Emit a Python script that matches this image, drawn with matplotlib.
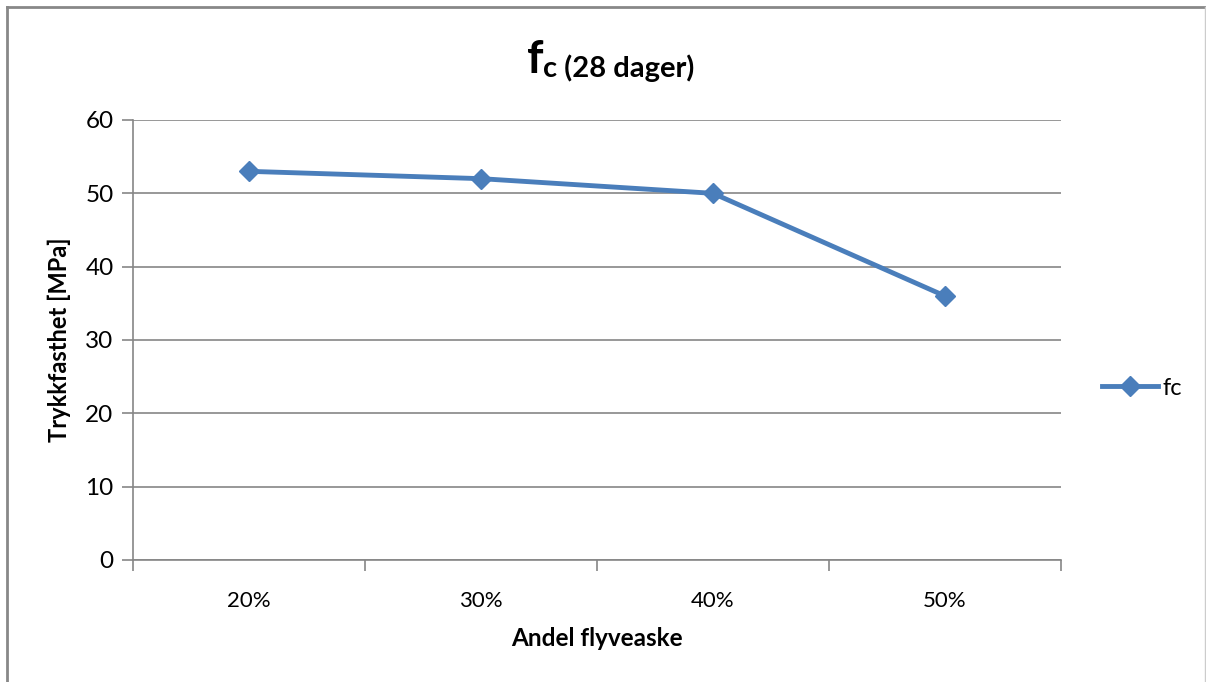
import matplotlib.pyplot as plt
from matplotlib.lines import Line2D

plt.rcParams['font.family'] = ['Lato', 'DejaVu Sans']

# Andel flyveaske mot trykkfasthet etter 28 dager
kategorier = ['20%', '30%', '40%', '50%']
fc_verdier = [53, 52, 50, 36]
y_ticks = [0, 10, 20, 30, 40, 50, 60]

W, H = 1206, 682
fig = plt.figure(figsize=(W / 100, H / 100), dpi=100)
ax = fig.add_axes([133 / W, 1 - 560 / H, (1061 - 133) / W, (560 - 120) / H])

blue = '#4a7ebb'
grid_c = '#868686'
x = [i + 0.5 for i in range(len(kategorier))]
ax.plot(x, fc_verdier, color=blue, lw=3.5, marker='D', ms=10,
        markerfacecolor=blue, markeredgecolor=blue, solid_capstyle='round', zorder=3)

ax.set_xlim(0, len(kategorier))
ax.set_ylim(0, 60)
ax.set_yticks(y_ticks)
ax.set_xticks(range(len(kategorier) + 1))
ax.set_xticklabels([])
ax.set_xticks(x, minor=True)
ax.set_xticklabels(kategorier, minor=True, fontsize=16)
ax.tick_params(axis='x', which='minor', length=0, pad=22)
ax.tick_params(axis='x', which='major', length=8, color=grid_c, width=1.2)
ax.tick_params(axis='y', length=8, color=grid_c, width=1.2, labelsize=17.5, pad=6)
ax.yaxis.grid(True, color=grid_c, lw=1.2)
ax.set_axisbelow(True)
for s in ['top', 'right']:
    ax.spines[s].set_visible(False)
for s in ['left', 'bottom']:
    ax.spines[s].set_color(grid_c)
    ax.spines[s].set_linewidth(1.2)

ax.set_ylabel('Trykkfasthet [MPa]', fontsize=17, fontweight='bold', labelpad=10)
ax.set_xlabel('Andel flyveaske', fontsize=17.5, fontweight='bold', labelpad=12)

# tittel med senket c
fig.text(544 / W, 1 - 60 / H, 'f', fontsize=33, fontweight='bold', ha='right', va='center')
fig.text(543 / W, 1 - 68 / H, 'c (28 dager)', fontsize=21, fontweight='bold', ha='left', va='center')

# forklaring
leg = ax.legend([Line2D([], [], color=blue, lw=3.5, marker='D', ms=10)], ['fc'],
                loc='center left', bbox_to_anchor=(1090 / W, 1 - 388 / H),
                bbox_transform=fig.transFigure, frameon=False, fontsize=17,
                handlelength=2.4, handletextpad=0.15, borderpad=0)

# ytre ramme
fig.add_artist(Line2D([7 / W, 7 / W], [0, 1 - 7 / H], color='#888888', lw=2, transform=fig.transFigure))
fig.add_artist(Line2D([7 / W, 1205 / W], [1 - 7 / H, 1 - 7 / H], color='#888888', lw=2, transform=fig.transFigure))
fig.add_artist(Line2D([1205 / W, 1205 / W], [0, 1 - 7 / H], color='#cccccc', lw=1, transform=fig.transFigure))

fig.savefig('out.png', dpi=100)
